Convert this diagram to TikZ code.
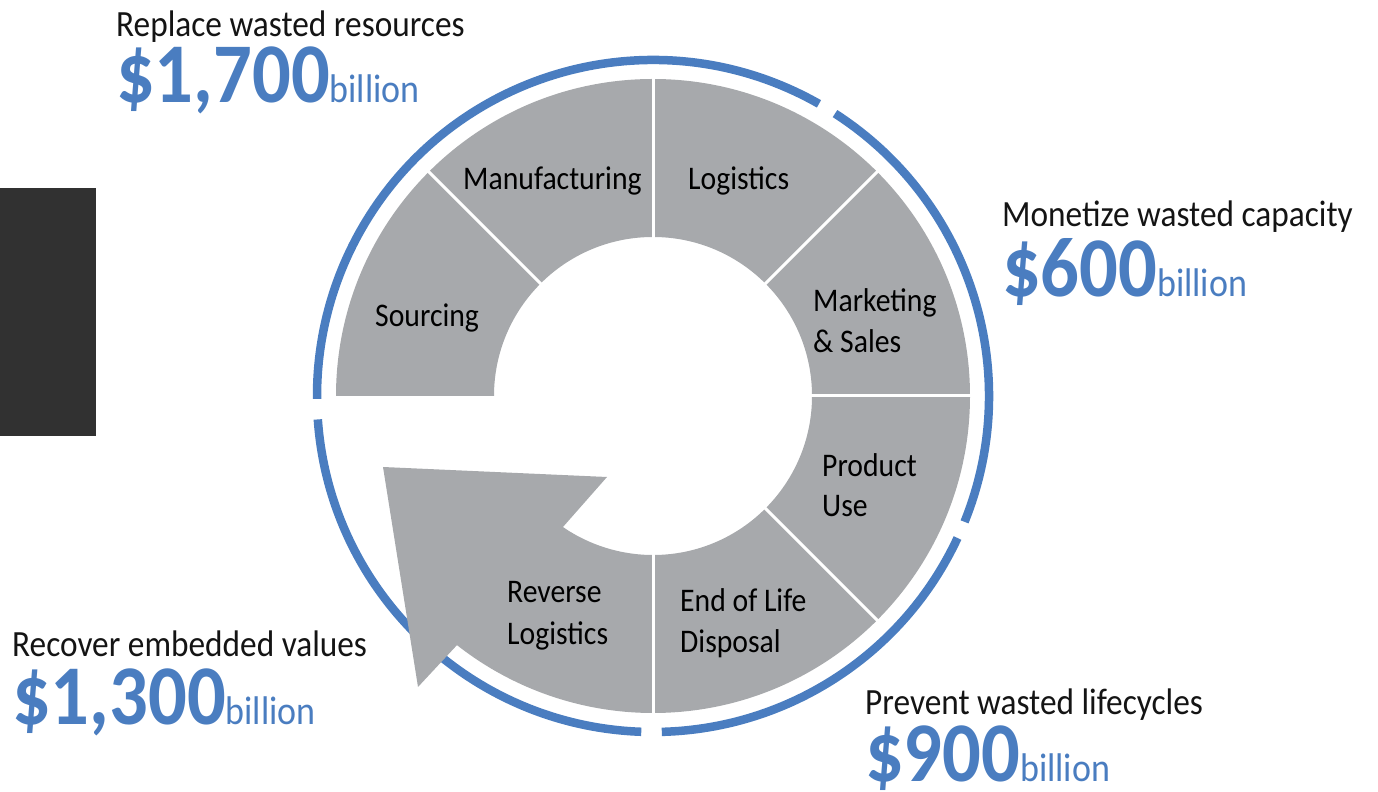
\documentclass[tikz,border=0pt]{standalone}
\usepackage{fontspec}
\setmainfont{Carlito}[FakeStretch=0.9]
\usetikzlibrary{calc}
\definecolor{ringblue}{HTML}{4A7DC0}
\definecolor{seggray}{HTML}{A7A9AC}
\definecolor{panel}{HTML}{313131}
\newcommand{\unitword}[1]{{\fontsize{40}{44}\selectfont\mdseries #1}}
\begin{document}
\begin{tikzpicture}[x=1pt,y=1pt,
  every node/.style={inner sep=0pt, anchor=base west},
  head/.style={font=\fontsize{37}{42}\selectfont, text=black!92},
  amount/.style={font=\fontsize{85}{88}\selectfont\bfseries, text=ringblue,
    text height=55pt, text depth=6pt},
  seglabel/.style={font=\fontsize{33}{38}\selectfont, text=black},
  ring/.style={draw=ringblue, line width=8.5pt, line cap=butt},
  divider/.style={draw=white, line width=3pt}]
\useasboundingbox (0,0) rectangle (1378,792);
\coordinate (C) at (653,396);

% dark side panel
\fill[panel] (0,356) rectangle (96,604);

% outer blue ring, split into four arcs
\draw[ring] ($(C)+(184:336pt)$) arc[start angle=184, end angle=268, radius=336pt];
\draw[ring] ($(C)+(-88.5:336pt)$) arc[start angle=-88.5, end angle=-25, radius=336pt];
\draw[ring] ($(C)+(-22:336pt)$) arc[start angle=-22, end angle=57.2, radius=336pt];
\draw[ring] ($(C)+(60.4:336pt)$) arc[start angle=60.4, end angle=180.5, radius=336pt];

% grey ring of stages
\fill[seggray] ($(C)+(180:317pt)$) arc[start angle=180, end angle=-90, radius=317pt]
  -- ($(C)+(-90:159pt)$) arc[start angle=-90, end angle=180, radius=159pt] -- cycle;

% reverse logistics arrow
\fill[seggray] ($(C)+(-90:159pt)$) arc[start angle=-90, end angle=-124.5, radius=159pt]
  -- (607,315) -- (383,325) -- (418,105)
  -- ($(C)+(-128.2:317pt)$) arc[start angle=-128.2, end angle=-90, radius=317pt] -- cycle;

% white separators between stages
\foreach \a in {135,90,45,0,-45,-90}
  \draw[divider] ($(C)+(\a:150pt)$) -- ($(C)+(\a:322pt)$);

% stage labels
\node[seglabel] (src) at (375,465) {Sourcing};
\node[seglabel] (mfg) at (463,602) {Manufacturing};
\node[seglabel] (log) at (688,602) {Logistics};
\node[seglabel] (mkt1) at (813,480) {Marketing};
\node[seglabel] (mkt2) at (813,439) {\& Sales};
\node[seglabel] (use1) at (822,315) {Product};
\node[seglabel] (use2) at (822,275) {Use};
\node[seglabel] (eol1) at (680,180) {End of Life};
\node[seglabel] (eol2) at (680,139) {Disposal};
\node[seglabel] (rev1) at (507,189) {Reverse};
\node[seglabel] (rev2) at (507,147) {Logistics};

% value callouts
\node[head] (h1) at (116,755) {Replace wasted resources};
\node[amount] (v1) at (116,689) {\$1,700\unitword{billion}};
\node[head] (h2) at (1002,565) {Monetize wasted capacity};
\node[amount] (v2) at (1002,495) {\$600\unitword{billion}};
\node[head] (h3) at (12,135) {Recover embedded values};
\node[amount] (v3) at (12,67) {\$1,300\unitword{billion}};
\node[head] (h4) at (865,77) {Prevent wasted lifecycles};
\node[amount] (v4) at (865,10) {\$900\unitword{billion}};
\end{tikzpicture}
\end{document}
